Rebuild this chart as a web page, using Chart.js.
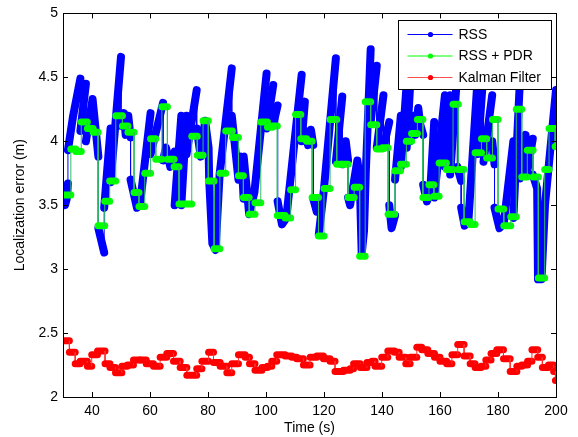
<!DOCTYPE html>
<html>
<head>
<meta charset="utf-8">
<script src="https://cdn.jsdelivr.net/npm/chart.js@4.4.1/dist/chart.umd.min.js"></script>
<style>
  html, body { margin: 0; padding: 0; background: #fff; }
  #wrap { width: 578px; height: 437px; }
</style>
</head>
<body>
<div id="wrap"><canvas id="loc-error"></canvas></div>
<script>
// RSS: vertices of the trace (same time twice = jump)
var rssT = [30.0, 30.7, 31.3, 31.7, 31.7, 33.5, 36.0, 36.0, 37.9, 37.9, 40.2, 42.2, 42.2, 44.2, 44.2, 46.4, 46.4, 50.0, 50.0, 51.0,
            51.6, 52.5, 53.3, 53.3, 55.5, 56.5, 60.2, 60.2, 64.5, 64.5, 65.5, 67.0, 68.5, 68.5, 70.8, 70.8, 72.6, 72.6, 76.1, 76.1,
            77.5, 79.0, 80.2, 80.4, 81.5, 82.6, 84.0, 88.2, 88.2, 90.5, 91.5, 92.3, 92.3, 94.2, 96.0, 100.2, 100.2, 102.5, 102.5, 104.0,
            104.0, 105.5, 107.0, 112.3, 112.3, 113.4, 113.4, 114.5, 115.5, 116.3, 116.3, 117.5, 118.2, 118.2, 120.0, 124.1, 124.1, 126.3, 126.3, 127.5,
            128.3, 128.3, 129.0, 131.5, 132.3, 133.0, 133.8, 134.4, 136.1, 136.1, 138.2, 138.2, 140.5, 140.5, 142.5, 142.5, 143.3, 144.5, 144.5, 146.5,
            146.5, 148.5, 148.5, 149.7, 149.7, 151.0, 151.5, 152.5, 153.2, 154.2, 154.2, 155.5, 156.6, 158.0, 158.0, 161.7, 161.7, 163.5, 163.5, 166.0,
            166.0, 167.3, 167.3, 168.5, 169.8, 173.0, 173.0, 175.0, 175.0, 178.0, 178.0, 178.8, 178.8, 180.5, 182.0, 185.3, 185.3, 187.5, 187.5, 189.5,
            190.0, 192.0, 192.0, 193.5, 193.8, 195.0, 196.2, 200.0];
var rssV = [3.58, 3.50, 3.55, 3.67, 3.93, 4.20, 4.49, 4.08, 4.45, 4.00, 4.33, 3.88, 3.32, 3.13, 3.48, 4.10, 3.68, 4.66, 4.12, 4.22,
            4.05, 4.20, 4.03, 3.70, 3.48, 3.50, 4.22, 3.90, 4.30, 3.85, 3.95, 3.80, 3.92, 3.50, 4.20, 3.50, 4.20, 3.90, 4.40, 4.10,
            3.88, 4.16, 3.95, 3.70, 3.20, 3.15, 3.74, 4.57, 4.20, 3.70, 3.88, 3.55, 3.88, 3.43, 3.60, 4.53, 4.10, 4.44, 4.13, 4.28,
            3.53, 3.35, 3.40, 4.52, 4.00, 4.31, 4.08, 3.97, 4.09, 3.97, 3.55, 3.45, 3.50, 3.27, 3.63, 4.65, 3.84, 4.35, 3.82, 4.00,
            3.85, 3.56, 3.50, 3.85, 3.71, 3.12, 3.30, 3.75, 4.72, 4.15, 4.59, 3.95, 4.36, 3.95, 4.15, 3.50, 3.32, 3.42, 3.70, 4.20,
            3.80, 4.45, 3.95, 4.44, 4.00, 4.20, 4.05, 4.26, 4.13, 4.05, 3.66, 3.53, 3.60, 4.15, 3.56, 4.36, 3.80, 4.36, 3.74, 4.55,
            3.80, 3.69, 3.48, 3.34, 3.38, 4.50, 3.90, 4.55, 3.84, 4.36, 4.00, 3.82, 3.48, 3.32, 3.36, 4.00, 3.40, 4.45, 3.71, 4.05,
            3.75, 4.02, 3.74, 3.63, 2.92, 2.92, 3.50, 4.40];

// RSS + PDR: start time of each held value
var pdrT = [30.0, 32.7, 34.4, 36.3, 38.4, 40.4, 42.1, 44.4, 46.1, 48.2, 50.5, 52.4, 54.5, 56.2, 58.2, 60.2, 62.0, 64.1, 66.0, 68.3,
            70.0, 74.4, 76.3, 78.3, 80.1, 82.1, 84.1, 86.1, 88.4, 90.5, 92.2, 94.2, 96.2, 98.2, 100.5, 102.2, 103.9, 106.6, 108.5, 110.2,
            112.0, 114.0, 115.9, 118.1, 120.0, 122.1, 124.4, 126.3, 128.3, 130.4, 132.3, 134.2, 136.1, 138.2, 140.1, 142.1, 144.4, 146.4, 148.4, 150.2,
            152.2, 154.1, 156.2, 157.9, 159.7, 162.2, 164.5, 166.3, 168.3, 170.4, 172.1, 174.3, 176.1, 178.1, 180.0, 182.0, 184.4, 186.3, 188.2, 190.1,
            192.1, 193.9, 196.1, 197.6, 199.7];
var pdrV = [3.58, 3.94, 3.92, 4.15, 4.10, 4.07, 3.34, 3.53, 3.69, 4.20, 4.12, 4.07, 3.60, 3.49, 3.75, 4.02, 3.86, 4.27, 3.86, 3.80,
            3.51, 4.04, 3.89, 4.16, 3.69, 3.16, 3.75, 4.08, 4.03, 3.73, 3.56, 3.43, 3.52, 4.15, 4.11, 4.12, 3.42, 3.40, 3.62, 4.21,
            4.02, 4.00, 3.56, 3.26, 3.63, 4.17, 3.82, 3.82, 3.56, 3.64, 3.10, 4.31, 4.13, 3.94, 3.95, 3.43, 3.77, 3.82, 4.00, 4.06,
            4.17, 3.56, 3.66, 3.57, 3.83, 3.78, 4.29, 3.78, 3.37, 3.35, 3.91, 4.02, 3.87, 4.17, 3.47, 3.34, 3.41, 4.25, 3.72, 3.93,
            3.72, 2.93, 3.78, 4.10, 3.96];

// Kalman filter: start time of each held value
var kfT = [30.0, 32.2, 34.2, 35.9, 38.4, 39.9, 41.9, 44.5, 46.2, 48.1, 50.3, 52.2, 54.3, 56.6, 58.7, 61.2, 63.5, 65.8, 68.1, 70.4,
           72.7, 76.1, 77.9, 80.2, 81.9, 84.2, 86.5, 88.2, 90.5, 92.8, 94.3, 96.2, 98.6, 100.5, 102.0, 103.7, 106.6, 108.9, 110.6, 112.9,
           115.2, 117.5, 119.8, 122.1, 123.8, 126.7, 129.0, 130.2, 132.5, 134.8, 136.5, 137.6, 139.9, 142.0, 144.3, 145.9, 148.2, 149.7, 152.0, 153.7,
           155.8, 158.1, 160.0, 162.3, 164.1, 166.1, 168.3, 170.4, 172.1, 174.2, 175.8, 177.6, 179.6, 181.9, 184.2, 186.5, 188.2, 190.2, 191.7, 193.7,
           195.3, 197.4, 199.2, 199.8];
var kfV = [2.44, 2.35, 2.26, 2.28, 2.24, 2.33, 2.36, 2.26, 2.23, 2.19, 2.24, 2.25, 2.29, 2.29, 2.26, 2.24, 2.31, 2.34, 2.28, 2.23,
           2.17, 2.22, 2.28, 2.35, 2.27, 2.24, 2.19, 2.26, 2.33, 2.31, 2.26, 2.21, 2.23, 2.24, 2.28, 2.33, 2.32, 2.31, 2.30, 2.25,
           2.31, 2.32, 2.30, 2.28, 2.20, 2.21, 2.22, 2.26, 2.23, 2.27, 2.28, 2.24, 2.31, 2.36, 2.35, 2.31, 2.26, 2.31, 2.39, 2.37,
           2.34, 2.31, 2.28, 2.26, 2.33, 2.41, 2.32, 2.26, 2.23, 2.24, 2.29, 2.34, 2.37, 2.30, 2.20, 2.24, 2.25, 2.28, 2.37, 2.31,
           2.23, 2.25, 2.20, 2.13];

var tEnd = 200;
var xTicks = [40, 60, 80, 100, 120, 140, 160, 180, 200];
var yTicks = [2, 2.5, 3, 3.5, 4, 4.5, 5];
var seriesNames = ['RSS', 'RSS + PDR', 'Kalman Filter'];

var FONT = '"Liberation Sans", Arial, sans-serif';

function trace(t, v) {
    return t.map(function (x, i) { return { x: x, y: v[i] }; });
}

// each value held until the next start time
function holds(t, v) {
    var pts = [];
    for (var i = 0; i < t.length; i++) {
        pts.push({ x: t[i], y: v[i] });
        pts.push({ x: i < t.length - 1 ? t[i + 1] : tEnd, y: v[i] });
    }
    return pts;
}

function isJump(c) {
    return Math.abs(c.p1.x - c.p0.x) < 0.1;
}

function lineSet(label, data, thick, thin, width, order) {
    return {
        label: label,
        data: data,
        order: order,
        borderColor: thick,
        borderWidth: width,
        borderCapStyle: 'round',
        borderJoinStyle: 'round',
        pointRadius: 0,
        pointHitRadius: 0,
        tension: 0,
        segment: {
            borderWidth: function (c) { return isJump(c) ? 1 : width; },
            borderColor: function (c) { return isJump(c) ? thin : thick; }
        }
    };
}

var legendStyle = [
    { line: '#0000ff', dot: '#0000ff' },
    { line: '#00ff00', dot: '#00ff00' },
    { line: '#ff5050', dot: '#ff0000' }
];

// matlab style frame, inward ticks and legend box
var matlabFrame = {
    id: 'matlabFrame',
    afterDraw: function (chart) {
        var ctx = chart.ctx;
        var a = chart.chartArea;
        var sx = chart.scales.x, sy = chart.scales.y;
        ctx.save();
        ctx.strokeStyle = '#000';
        ctx.lineWidth = 1;
        ctx.beginPath();
        xTicks.forEach(function (v) {
            var px = Math.round(sx.getPixelForValue(v)) + 0.5;
            ctx.moveTo(px, a.bottom); ctx.lineTo(px, a.bottom - 5);
            ctx.moveTo(px, a.top); ctx.lineTo(px, a.top + 5);
        });
        yTicks.forEach(function (v) {
            var py = Math.round(sy.getPixelForValue(v)) + 0.5;
            ctx.moveTo(a.left, py); ctx.lineTo(a.left + 5, py);
            ctx.moveTo(a.right, py); ctx.lineTo(a.right - 5, py);
        });
        ctx.stroke();
        ctx.strokeRect(Math.round(a.left) + 0.5, Math.round(a.top) + 0.5,
                       Math.round(a.right - a.left), Math.round(a.bottom - a.top));

        // legend
        var bw = 153, bh = 69;
        var bx = Math.round(a.right) - 5 - bw + 0.5, by = Math.round(a.top) + 7 + 0.5;
        ctx.fillStyle = '#fff';
        ctx.fillRect(bx, by, bw, bh);
        ctx.strokeStyle = '#000';
        ctx.strokeRect(bx, by, bw, bh);
        ctx.font = '14px ' + FONT;
        ctx.textBaseline = 'middle';
        ctx.textAlign = 'left';
        seriesNames.forEach(function (name, i) {
            var ry = by + 14 + i * 21.5;
            ctx.strokeStyle = legendStyle[i].line;
            ctx.beginPath();
            ctx.moveTo(bx + 9, ry); ctx.lineTo(bx + 54, ry);
            ctx.stroke();
            ctx.fillStyle = legendStyle[i].dot;
            ctx.beginPath();
            ctx.arc(bx + 32, ry, 2.6, 0, Math.PI * 2);
            ctx.fill();
            ctx.fillStyle = '#000';
            ctx.fillText(name, bx + 60, ry + 0.5);
        });
        ctx.restore();
    }
};

var ctx = document.getElementById('loc-error').getContext('2d');
var chart = new Chart(ctx, {
    type: 'line',
    data: {
        datasets: [
            lineSet(seriesNames[0], trace(rssT, rssV), '#0000ff', '#0000ff', 8, 3),
            lineSet(seriesNames[1], holds(pdrT, pdrV), '#00ff00', '#30c060', 7, 2),
            lineSet(seriesNames[2], holds(kfT, kfV), '#ff0000', '#ff3030', 7, 1)
        ]
    },
    options: {
        responsive: true,
        maintainAspectRatio: false,
        animation: false,
        events: [],
        layout: { padding: { left: 0, top: 11, right: 22, bottom: 0 } },
        plugins: {
            legend: { display: false },
            tooltip: { enabled: false }
        },
        scales: {
            x: {
                type: 'linear',
                min: 30,
                max: 200,
                afterBuildTicks: function (s) { s.ticks = xTicks.map(function (v) { return { value: v }; }); },
                afterFit: function (s) { s.height = 40; },
                grid: { display: false, drawTicks: false },
                border: { display: false },
                ticks: {
                    color: '#000',
                    padding: 6,
                    maxRotation: 0,
                    autoSkip: false,
                    font: { family: FONT, size: 14 },
                    callback: function (v) { return String(v); }
                },
                title: {
                    display: true,
                    text: 'Time (s)',
                    color: '#000',
                    font: { family: FONT, size: 14 },
                    padding: { top: 0, bottom: 0 }
                }
            },
            y: {
                min: 2,
                max: 5,
                afterBuildTicks: function (s) { s.ticks = yTicks.map(function (v) { return { value: v }; }); },
                afterFit: function (s) { s.width = 63; },
                grid: { display: false, drawTicks: false },
                border: { display: false },
                ticks: {
                    color: '#000',
                    padding: 5,
                    autoSkip: false,
                    font: { family: FONT, size: 14 },
                    callback: function (v) { return String(v); }
                },
                title: {
                    display: true,
                    text: 'Localization error (m)',
                    color: '#000',
                    font: { family: FONT, size: 14 },
                    padding: { top: 12, bottom: 0 }
                }
            }
        }
    },
    plugins: [matlabFrame]
});
</script>
</body>
</html>
